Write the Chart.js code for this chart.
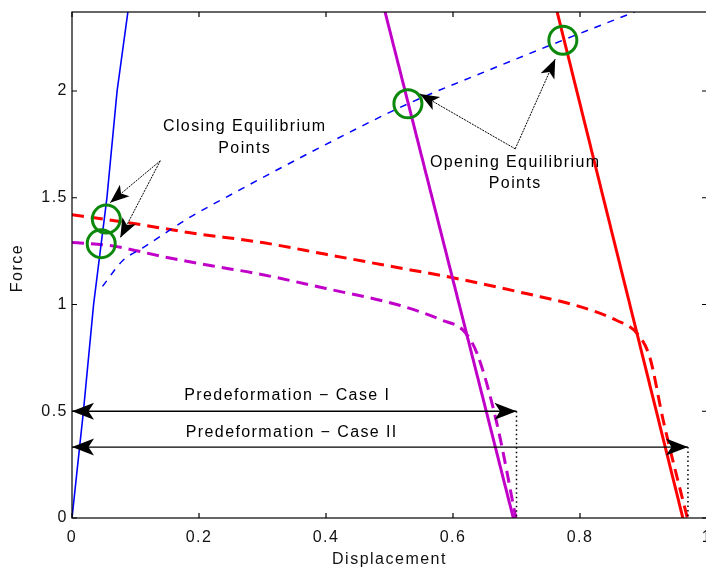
<!DOCTYPE html>
<html>
<head>
<meta charset="utf-8">
<script src="https://cdn.jsdelivr.net/npm/chart.js@4.4.1/dist/chart.umd.min.js"></script>
<style>
  html, body { margin: 0; padding: 0; background: #fff; overflow: hidden; }
  #frame { width: 706px; height: 571px; overflow: hidden; position: relative; }
  #box { position: absolute; left: 0; top: 0; width: 740px; height: 571px; }
</style>
</head>
<body>
<div id="frame"><div id="box"><canvas id="chart"></canvas></div></div>
<script>
// axis ticks
const xTickValues = [0, 0.2, 0.4, 0.6, 0.8, 1];
const xTickLabels = ["0", "0.2", "0.4", "0.6", "0.8", "1"];
const yTickValues = [0, 0.5, 1, 1.5, 2];
const yTickLabels = ["0", "0.5", "1", "1.5", "2"];

// spring force lines (steep)
const blueSolidX = [0, 0.018, 0.034, 0.055, 0.071, 0.088];
const blueSolidY = [0, 0.5, 1.0, 1.5, 2.0, 2.37];
const magentaSolidX = [0.493, 0.695];
const magentaSolidY = [2.37, 0];
const redSolidX = [0.764, 0.962];
const redSolidY = [2.37, 0];

// curved force characteristics
const blueDashedX = [0.048, 0.08, 0.112, 0.181, 0.26, 0.40, 0.529, 0.65, 0.773, 0.886];
const blueDashedY = [1.085, 1.206, 1.266, 1.40, 1.53, 1.75, 1.94, 2.09, 2.238, 2.37];
const redDashedX = [0, 0.05, 0.1, 0.186, 0.3, 0.4, 0.5, 0.6, 0.717, 0.8, 0.858, 0.89, 0.91, 0.931, 0.969];
const redDashedY = [1.42, 1.40, 1.378, 1.336, 1.29, 1.235, 1.18, 1.125, 1.05, 0.99, 0.925, 0.864, 0.752, 0.458, 0];
const magentaDashedX = [0, 0.06, 0.15, 0.222, 0.291, 0.4, 0.517, 0.584, 0.616, 0.638, 0.669, 0.699];
const magentaDashedY = [1.29, 1.276, 1.22, 1.18, 1.145, 1.075, 0.995, 0.925, 0.879, 0.77, 0.444, 0];

// equilibrium points (circled)
const eqX = [0.054, 0.046, 0.529, 0.773];
const eqY = [1.40, 1.285, 1.94, 2.238];

// predeformation spans
const caseLabels = ["Predeformation \u2212 Case I", "Predeformation \u2212 Case II"];
const caseLevel = [0.5, 0.332];
const caseEnd = [0.7, 0.97];

function zip(xs, ys) {
  return xs.map((x, i) => ({ x, y: ys[i] }));
}

// annotation anchors, in data units
const notes = {
  closing: { from: [0.139, 1.673], tips: [[0.060, 1.477], [0.076, 1.313]],
             text: ["Closing Equilibrium", "Points"], at: [[0.272, 1.834], [0.272, 1.731]] },
  opening: { from: [0.698, 1.729], tips: [[0.548, 1.986], [0.761, 2.15]],
             text: ["Opening Equilibrium", "Points"], at: [[0.698, 1.666], [0.698, 1.567]] },
  caseTextAt: [[0.339, 0.571], [0.346, 0.398]],
};

const FONT = '"Liberation Sans", Arial, sans-serif';

function arrowHead(ctx, x0, y0, x1, y1, len, half) {
  const a = Math.atan2(y1 - y0, x1 - x0);
  const c = Math.cos(a), s = Math.sin(a);
  ctx.beginPath();
  ctx.moveTo(x1, y1);
  ctx.lineTo(x1 - len * c - half * s, y1 - len * s + half * c);
  ctx.lineTo(x1 - 0.75 * len * c, y1 - 0.75 * len * s);
  ctx.lineTo(x1 - len * c + half * s, y1 - len * s - half * c);
  ctx.closePath();
  ctx.fill();
}

const figureExtras = {
  id: "figureExtras",
  beforeDraw(chart) {
    chart.ctx.letterSpacing = "1.5px";
  },
  afterDatasetsDraw(chart) {
    const { ctx, scales } = chart;
    const px = (v) => scales.x.getPixelForValue(v);
    const py = (v) => scales.y.getPixelForValue(v);
    ctx.save();
    ctx.fillStyle = "#000";
    ctx.strokeStyle = "#000";

    // pointer arrows to equilibrium points
    [notes.closing, notes.opening].forEach((n) => {
      const fx = px(n.from[0]), fy = py(n.from[1]);
      n.tips.forEach(([tx, ty]) => {
        const x1 = px(tx), y1 = py(ty);
        ctx.lineWidth = 1;
        ctx.setLineDash([2, 1]);
        ctx.beginPath();
        ctx.moveTo(fx, fy);
        ctx.lineTo(x1, y1);
        ctx.stroke();
        ctx.setLineDash([]);
        arrowHead(ctx, fx, fy, x1, y1, 19, 7.5);
      });
    });

    // predeformation double arrows and dotted drop lines
    caseLevel.forEach((lvl, i) => {
      const y = py(lvl), xa = px(0), xb = px(caseEnd[i]);
      ctx.lineWidth = 1.4;
      ctx.beginPath();
      ctx.moveTo(xa, y);
      ctx.lineTo(xb, y);
      ctx.stroke();
      arrowHead(ctx, xb, y, xa, y, 22, 8.5);
      arrowHead(ctx, xa, y, xb, y, 22, 8.5);
      ctx.lineWidth = 1.5;
      ctx.setLineDash([1.5, 3]);
      ctx.beginPath();
      ctx.moveTo(xb, y);
      ctx.lineTo(xb, py(0));
      ctx.stroke();
      ctx.setLineDash([]);
    });

    // text labels
    ctx.font = "16px " + FONT;
    ctx.letterSpacing = "1.4px";
    ctx.textAlign = "center";
    ctx.textBaseline = "middle";
    [notes.closing, notes.opening].forEach((n) => {
      n.text.forEach((t, i) => ctx.fillText(t, px(n.at[i][0]), py(n.at[i][1])));
    });
    caseLabels.forEach((t, i) => {
      ctx.fillText(t, px(notes.caseTextAt[i][0]), py(notes.caseTextAt[i][1]));
    });
    ctx.restore();
  },
  afterDraw(chart) {
    const { ctx, chartArea: a, scales } = chart;
    ctx.save();
    ctx.strokeStyle = "#000";
    ctx.lineWidth = 1.2;
    ctx.strokeRect(a.left, a.top, a.right - a.left, a.bottom - a.top);
    // inward tick marks
    ctx.beginPath();
    xTickValues.forEach((v) => {
      const x = scales.x.getPixelForValue(v);
      ctx.moveTo(x, a.bottom); ctx.lineTo(x, a.bottom - 5);
      ctx.moveTo(x, a.top); ctx.lineTo(x, a.top + 5);
    });
    yTickValues.forEach((v) => {
      const y = scales.y.getPixelForValue(v);
      ctx.moveTo(a.left, y); ctx.lineTo(a.left + 5, y);
      ctx.moveTo(a.right, y); ctx.lineTo(a.right - 5, y);
    });
    ctx.stroke();

    // axis titles
    ctx.fillStyle = "#111";
    ctx.font = "16px " + FONT;
    ctx.letterSpacing = "1.5px";
    ctx.textAlign = "center";
    ctx.textBaseline = "middle";
    ctx.fillText("Displacement", (a.left + a.right) / 2, 560);
    ctx.translate(18, (a.top + a.bottom) / 2 + 3);
    ctx.rotate(-Math.PI / 2);
    ctx.fillText("Force", 0, 0);
    ctx.restore();
  },
};

function lineSet(label, xs, ys, color, width, dash, smooth) {
  return {
    label,
    data: zip(xs, ys),
    showLine: true,
    borderColor: color,
    borderWidth: width,
    borderDash: dash,
    pointRadius: 0,
    fill: false,
    cubicInterpolationMode: smooth ? "monotone" : "default",
    order: 2,
  };
}

new Chart(document.getElementById("chart"), {
  type: "scatter",
  data: {
    datasets: [
      {
        label: "Equilibrium points",
        data: zip(eqX, eqY),
        pointRadius: 14,
        pointBorderWidth: 3,
        pointBorderColor: "#0c880c",
        pointBackgroundColor: "rgba(0,0,0,0)",
        showLine: false,
        clip: false,
        order: 1,
      },
      lineSet("Blue force", blueSolidX, blueSolidY, "#0000ff", 1.6, [], false),
      lineSet("Blue characteristic", blueDashedX, blueDashedY, "#0000ff", 1.5, [7, 7], true),
      lineSet("Magenta force", magentaSolidX, magentaSolidY, "#c000c8", 3, [], false),
      lineSet("Magenta characteristic", magentaDashedX, magentaDashedY, "#c000c8", 3, [12, 7], true),
      lineSet("Red force", redSolidX, redSolidY, "#ff0000", 3, [], false),
      lineSet("Red characteristic", redDashedX, redDashedY, "#ff0000", 3, [12, 7], true),
    ],
  },
  options: {
    responsive: true,
    maintainAspectRatio: false,
    animation: false,
    layout: { autoPadding: false, padding: { top: 12, right: 33, left: 0, bottom: 0 } },
    plugins: { legend: { display: false }, tooltip: { enabled: false } },
    scales: {
      x: {
        type: "linear",
        min: 0,
        max: 1,
        grid: { display: false, drawTicks: false },
        border: { display: false },
        afterBuildTicks: (s) => { s.ticks = xTickValues.map((value) => ({ value })); },
        afterFit: (s) => { s.height = 53; s.paddingLeft = 0; s.paddingRight = 0; },
        ticks: {
          padding: 10,
          color: "#111",
          font: { family: FONT, size: 16 },
          maxRotation: 0,
          autoSkip: false,
          callback: (v, i) => xTickLabels[i],
        },
      },
      y: {
        type: "linear",
        min: 0,
        max: 2.37,
        grid: { display: false, drawTicks: false },
        border: { display: false },
        afterBuildTicks: (s) => { s.ticks = yTickValues.map((value) => ({ value })); },
        afterFit: (s) => { s.width = 72; s.paddingTop = 0; s.paddingBottom = 0; },
        ticks: {
          padding: 4,
          color: "#111",
          font: { family: FONT, size: 16 },
          autoSkip: false,
          callback: (v, i) => yTickLabels[i],
        },
      },
    },
  },
  plugins: [figureExtras],
});
</script>
</body>
</html>
